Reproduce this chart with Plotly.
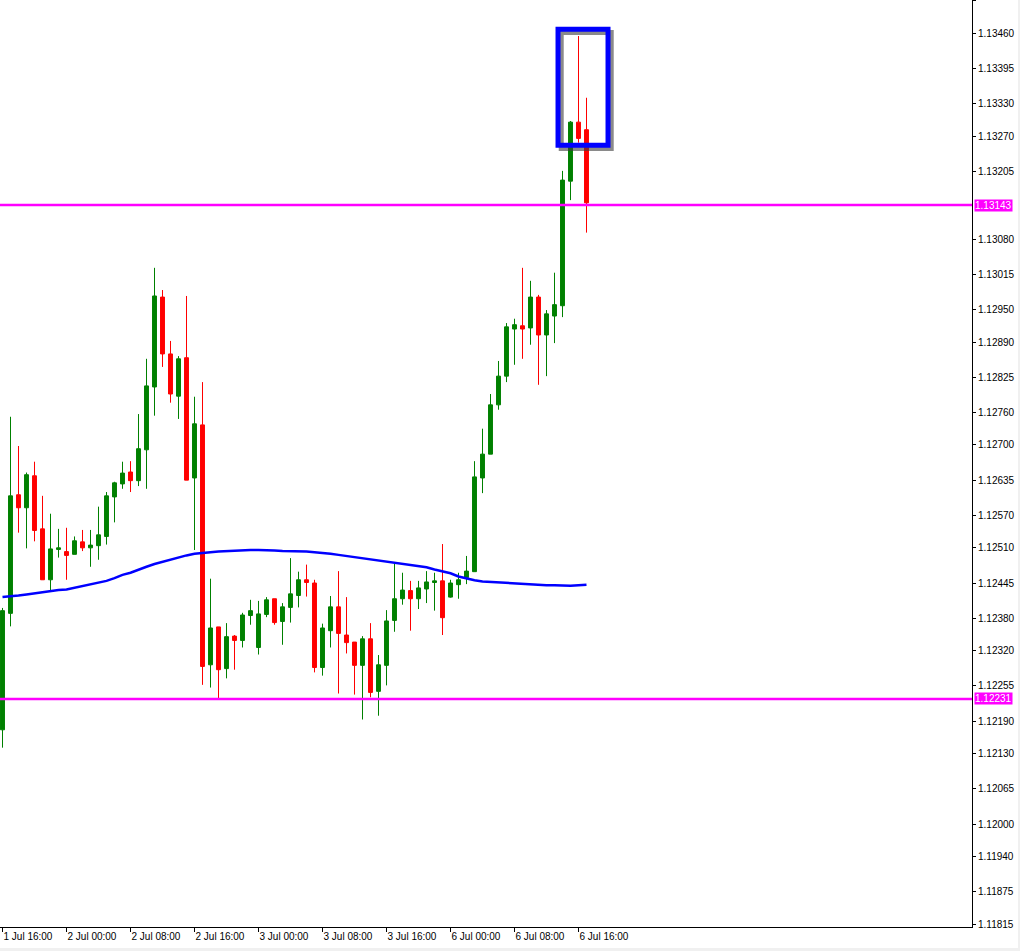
import plotly.graph_objects as go

# Hourly bars, 1 Jul 16:00 -> 6 Jul 17:00 (index = bar number)
opens = [1.12174, 1.12389, 1.12608, 1.12584, 1.12643, 1.12545, 1.12451, 1.12507, 1.12503, 1.12498,
         1.12521, 1.12510, 1.12514, 1.12531, 1.12604, 1.12628, 1.12650, 1.12634, 1.12691, 1.12807,
         1.12973, 1.12868, 1.12790, 1.12861, 1.12639, 1.12737, 1.12294, 1.12364, 1.12287, 1.12347,
         1.12339, 1.12385, 1.12326, 1.12387, 1.12416, 1.12374, 1.12400, 1.12422, 1.12451, 1.12445,
         1.12289, 1.12357, 1.12401, 1.12349, 1.12336, 1.12293, 1.12342, 1.12245, 1.12293, 1.12376,
         1.12416, 1.12431, 1.12416, 1.12434, 1.12446, 1.12449, 1.12419, 1.12442, 1.12455, 1.12466,
         1.12639, 1.12683, 1.12774, 1.12827, 1.12914, 1.12920, 1.12916, 1.12973, 1.12903, 1.12938,
         1.12957, 1.13187, 1.13296, 1.13282]
highs = [1.12399, 1.12752, 1.12698, 1.12649, 1.12669, 1.12606, 1.12573, 1.12545, 1.12547, 1.12531,
         1.12543, 1.12543, 1.12586, 1.12613, 1.12632, 1.12669, 1.12670, 1.12757, 1.12859, 1.13027,
         1.12986, 1.12892, 1.12864, 1.12975, 1.12789, 1.12816, 1.12453, 1.12364, 1.12371, 1.12349,
         1.12390, 1.12414, 1.12412, 1.12419, 1.12416, 1.12408, 1.12491, 1.12466, 1.12479, 1.12451,
         1.12370, 1.12421, 1.12467, 1.12419, 1.12336, 1.12347, 1.12371, 1.12312, 1.12395, 1.12482,
         1.12464, 1.12449, 1.12449, 1.12467, 1.12464, 1.12517, 1.12451, 1.12464, 1.12495, 1.12670,
         1.12730, 1.12794, 1.12855, 1.12925, 1.12933, 1.13027, 1.13003, 1.12977, 1.12949, 1.13018,
         1.13206, 1.13298, 1.13455, 1.13341]
lows = [1.12141, 1.12365, 1.12538, 1.12509, 1.12522, 1.12451, 1.12432, 1.12492, 1.12451, 1.12498,
        1.12504, 1.12475, 1.12488, 1.12516, 1.12557, 1.12619, 1.12613, 1.12624, 1.12619, 1.12754,
        1.12844, 1.12778, 1.12748, 1.12635, 1.12506, 1.12257, 1.12252, 1.12232, 1.12269, 1.12285,
        1.12326, 1.12368, 1.12313, 1.12382, 1.12368, 1.12331, 1.12372, 1.12400, 1.12420, 1.12280,
        1.12274, 1.12326, 1.12241, 1.12315, 1.12239, 1.12193, 1.12234, 1.12200, 1.12256, 1.12355,
        1.12405, 1.12357, 1.12397, 1.12408, 1.12394, 1.12349, 1.12418, 1.12416, 1.12443, 1.12466,
        1.12611, 1.12683, 1.12765, 1.12816, 1.12848, 1.12859, 1.12885, 1.12811, 1.12827, 1.12888,
        1.12936, 1.13152, 1.13258, 1.13092]
closes = [1.12394, 1.12606, 1.12584, 1.12645, 1.12542, 1.12451, 1.12508, 1.12510, 1.12496, 1.12523,
          1.12510, 1.12515, 1.12534, 1.12606, 1.12630, 1.12648, 1.12634, 1.12693, 1.12809, 1.12975,
          1.12868, 1.12794, 1.12859, 1.12635, 1.12739, 1.12291, 1.12362, 1.12285, 1.12346, 1.12339,
          1.12386, 1.12394, 1.12388, 1.12414, 1.12372, 1.12401, 1.12425, 1.12451, 1.12446, 1.12289,
          1.12362, 1.12401, 1.12352, 1.12335, 1.12293, 1.12342, 1.12243, 1.12294, 1.12375, 1.12416,
          1.12432, 1.12416, 1.12436, 1.12447, 1.12449, 1.12381, 1.12445, 1.12451, 1.12467, 1.12641,
          1.12683, 1.12774, 1.12827, 1.12918, 1.12922, 1.12914, 1.12973, 1.12903, 1.12942, 1.12959,
          1.13189, 1.13296, 1.13266, 1.13147]
moving_avg = [1.12419, 1.12420, 1.12422, 1.12424, 1.12426, 1.12428, 1.12431, 1.12432, 1.12433, 1.12436,
              1.12439, 1.12442, 1.12446, 1.12449, 1.12454, 1.12460, 1.12464, 1.12470, 1.12475, 1.12480,
              1.12484, 1.12488, 1.12493, 1.12496, 1.12499, 1.12501, 1.12502, 1.12503, 1.12504, 1.12505,
              1.12506, 1.12506, 1.12506, 1.12506, 1.12505, 1.12504, 1.12504, 1.12503, 1.12503, 1.12502,
              1.12501, 1.12499, 1.12497, 1.12495, 1.12493, 1.12491, 1.12489, 1.12487, 1.12485, 1.12483,
              1.12481, 1.12479, 1.12477, 1.12474, 1.12470, 1.12467, 1.12463, 1.12457, 1.12453, 1.12450,
              1.12448, 1.12447, 1.12446, 1.12446, 1.12444, 1.12444, 1.12443, 1.12442, 1.12441, 1.12441,
              1.12440, 1.12440, 1.12441, 1.12442]
bars = list(range(len(opens)))

x_tick_bars = [0, 8, 16, 24, 32, 40, 48, 56, 64, 72]
x_tick_labels = ["1 Jul 16:00", "2 Jul 00:00", "2 Jul 08:00", "2 Jul 16:00", "3 Jul 00:00",
                 "3 Jul 08:00", "3 Jul 16:00", "6 Jul 00:00", "6 Jul 08:00", "6 Jul 16:00"]
y_tick_vals = [1.13520, 1.13460, 1.13395, 1.13330, 1.13270, 1.13205, 1.13080, 1.13015,
               1.12950, 1.12890, 1.12825, 1.12760, 1.12700, 1.12635, 1.12570, 1.12510, 1.12445,
               1.12380, 1.12320, 1.12255, 1.12190, 1.12130, 1.12065, 1.12000, 1.11940, 1.11875,
               1.11815]
h_levels = [1.13143, 1.12231]
box_x = [69.44, 75.69]
box_y = [1.132534, 1.134676]

FONT = "Liberation Sans"

fig = go.Figure()
fig.add_trace(go.Candlestick(
    x=bars, open=opens, high=highs, low=lows, close=closes,
    increasing=dict(line=dict(color="#008000", width=1), fillcolor="#008000"),
    decreasing=dict(line=dict(color="#FF0000", width=1), fillcolor="#FF0000"),
    whiskerwidth=0, showlegend=False, hoverinfo="skip"))
fig.add_trace(go.Scatter(x=bars, y=moving_avg, mode="lines",
                         line=dict(color="#0000FF", width=2.5), showlegend=False, hoverinfo="skip"))

for lvl in h_levels:
    fig.add_shape(type="line", xref="paper", x0=0, x1=1, yref="y", y0=lvl, y1=lvl,
                  line=dict(color="#FF00FF", width=2.5))
    fig.add_annotation(xref="paper", x=1, xanchor="left", xshift=2, yref="y", y=lvl,
                       yanchor="middle", text=f"{lvl:.5f}", showarrow=False,
                       bgcolor="#FF00FF", borderpad=0,
                       font=dict(family=FONT, size=10, color="white"))

# drawn rectangle with shadow
fig.add_shape(type="rect", x0=box_x[0] + 0.4, x1=box_x[1] + 0.4,
              y0=box_y[0] - 0.00006, y1=box_y[1] - 0.00006,
              line=dict(color="rgba(60,60,60,0.6)", width=5))
fig.add_shape(type="rect", x0=box_x[0], x1=box_x[1], y0=box_y[0], y1=box_y[1],
              line=dict(color="#0000FF", width=5))

# window strips (bottom and right edge)
fig.add_shape(type="rect", xref="paper", yref="paper", x0=-0.01, x1=1.06, y0=-0.0226, y1=-0.03,
              fillcolor="#F0F0F0", line=dict(width=0), layer="below")
fig.add_shape(type="rect", xref="paper", yref="paper", x0=1.0473, x1=1.06, y0=-0.03, y1=1.01,
              fillcolor="#F0F0F0", line=dict(width=0), layer="below")

fig.update_layout(
    width=1020, height=951,
    margin=dict(l=0, r=48, t=0, b=24),
    paper_bgcolor="white", plot_bgcolor="white",
    font=dict(family=FONT, size=10, color="black"),
    showlegend=False,
    xaxis=dict(range=[-0.3125, 121.1875], showgrid=False, zeroline=False,
               rangeslider=dict(visible=False),
               tickmode="array", tickvals=x_tick_bars, ticktext=x_tick_labels,
               ticks="outside", ticklen=4, tickcolor="black",
               ticklabelposition="outside right",
               showline=True, linecolor="black", linewidth=1, mirror=False,
               tickfont=dict(family=FONT, size=10, color="black")),
    yaxis=dict(range=[1.118099, 1.135215], side="right", showgrid=False, zeroline=False,
               tickmode="array", tickvals=y_tick_vals,
               ticktext=[f"{v:.5f}" for v in y_tick_vals],
               ticks="outside", ticklen=3, tickcolor="black",
               showline=True, linecolor="black", linewidth=1,
               tickfont=dict(family=FONT, size=10, color="black")),
)

fig.write_html("out.html", config={"displayModeBar": False},
               post_script="document.body.style.margin='0px';document.body.style.padding='0px';"
                           "document.body.style.overflow='hidden';")
